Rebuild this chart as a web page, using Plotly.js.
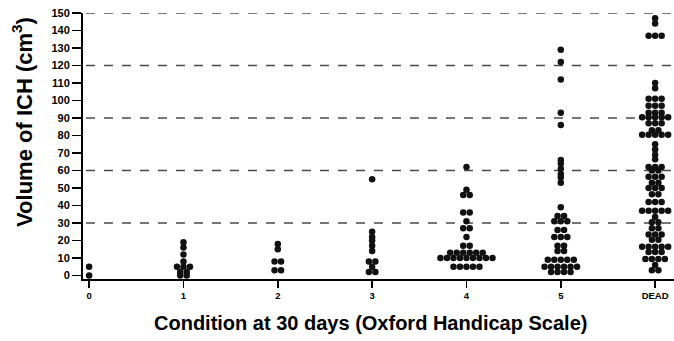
<!DOCTYPE html>
<html>
<head>
<meta charset="utf-8">
<script src="https://cdn.plot.ly/plotly-3.0.1.min.js"></script>
<style>html,body{margin:0;padding:0;background:#fff;}#chart{width:674px;height:341px;}</style>
</head>
<body>
<div id="chart"></div>
<script>
// Categories (Oxford Handicap Scale at 30 days)
const categories = ['0', '1', '2', '3', '4', '5', 'DEAD'];

// ICH volumes (cm3) read per category
const vol0 = [5, 0];
const vol1 = [19, 16, 12, 8, 5, 5, 5, 2, 2, 0, 0];
const vol2 = [18, 15, 8, 8, 3, 3];
const vol3 = [55, 25, 22, 20, 17, 14, 8, 8, 5, 2, 2];
const vol4 = [62, 49, 46, 46, 36, 36, 31, 27, 27, 22, 17, 17,
  13, 13, 13, 13, 13, 13, 10, 10, 10, 10, 10, 10, 10, 10, 10, 5, 5, 5, 5, 5];
const vol5 = [129, 122, 112, 93, 86, 66, 64, 61, 58, 56, 53, 39, 34, 34, 31, 31, 31,
  26, 26, 22, 22, 22, 17, 17, 14, 14, 9, 9, 9, 9, 9, 5, 5, 5, 5, 5, 5, 2, 2, 2, 2];
const volDead = [147, 144, 137, 137, 137, 110, 107, 101, 101, 101, 97, 97, 97, 93, 93, 93,
  90.5, 90.5, 90.5, 90.5, 90.5, 87, 87, 87, 83, 83, 80.5, 80.5, 80.5, 80.5, 80.5,
  75, 72, 69, 66.5, 62, 62, 62, 60, 60, 56.5, 56.5, 56.5, 53, 53, 50, 50, 50, 46.5, 46.5,
  42, 42, 42, 37, 37, 37, 37, 37, 33.5, 30.5, 30.5, 27, 27, 23.5, 23.5, 23.5, 20.5, 20.5,
  16.5, 16.5, 16.5, 16.5, 16.5, 13.5, 13.5, 13.5, 9.5, 9.5, 9.5, 9.5, 6, 3, 3];

const groups = [vol0, vol1, vol2, vol3, vol4, vol5, volDead];

// y-axis tick labels and dashed reference lines
const yTicks = [0, 10, 20, 30, 40, 50, 60, 70, 80, 90, 100, 110, 120, 130, 140, 150];
const gridValues = [30, 60, 90, 120, 150];

// Dot-plot layout: dots sharing a value are spread in a centred row
const step = 0.069;
const xs = [], ys = [];
groups.forEach((vals, ci) => {
  const counts = {};
  vals.forEach(v => { counts[v] = (counts[v] || 0) + 1; });
  Object.keys(counts).forEach(k => {
    const n = counts[k];
    for (let j = 0; j < n; j++) {
      xs.push(ci + (j - (n - 1) / 2) * step);
      ys.push(parseFloat(k));
    }
  });
});

const font = {family: 'Liberation Sans, Arial, sans-serif', color: '#000', weight: 'bold'};

const data = [{
  type: 'scatter', mode: 'markers', x: xs, y: ys,
  marker: {color: '#111', size: 6.5, line: {width: 0}},
  hoverinfo: 'y', showlegend: false
}];

const layout = {
  width: 674, height: 341,
  margin: {l: 83, r: 0, t: 13, b: 62},
  paper_bgcolor: '#fff', plot_bgcolor: '#fff',
  xaxis: {
    range: [-0.065, 6.2], tickvals: categories.map((c, i) => i), ticktext: categories,
    ticks: 'outside', ticklen: 7, tickwidth: 1.5, tickcolor: '#000',
    showline: true, linewidth: 2, linecolor: '#000', showgrid: false, zeroline: false,
    tickfont: Object.assign({}, font, {size: 9.5})
  },
  yaxis: {
    range: [-2, 150], tickvals: yTicks,
    ticks: 'outside', ticklen: 9, tickwidth: 1.5, tickcolor: '#000',
    showline: true, linewidth: 2, linecolor: '#000', showgrid: false, zeroline: false,
    tickfont: Object.assign({}, font, {size: 11})
  },
  shapes: gridValues.map(g => ({
    type: 'line', xref: 'paper', x0: 0.005, x1: 1, yref: 'y', y0: g, y1: g,
    line: {color: '#4a4a4a', width: 1.6, dash: '9px,9px'}, layer: 'below'
  })),
  annotations: [
    {text: 'Volume of ICH (cm<sup>3</sup>)', xref: 'paper', yref: 'paper',
     x: -0.103, y: 0.591, xanchor: 'center', yanchor: 'middle', textangle: -90,
     showarrow: false, font: Object.assign({}, font, {size: 22})},
    {text: 'Condition at 30 days (Oxford Handicap Scale)', xref: 'paper', yref: 'paper',
     x: 0.486, y: -0.164, xanchor: 'center', yanchor: 'middle',
     showarrow: false, font: Object.assign({}, font, {size: 20})}
  ]
};

Plotly.newPlot('chart', data, layout, {displayModeBar: false, staticPlot: true});
</script>
</body>
</html>
